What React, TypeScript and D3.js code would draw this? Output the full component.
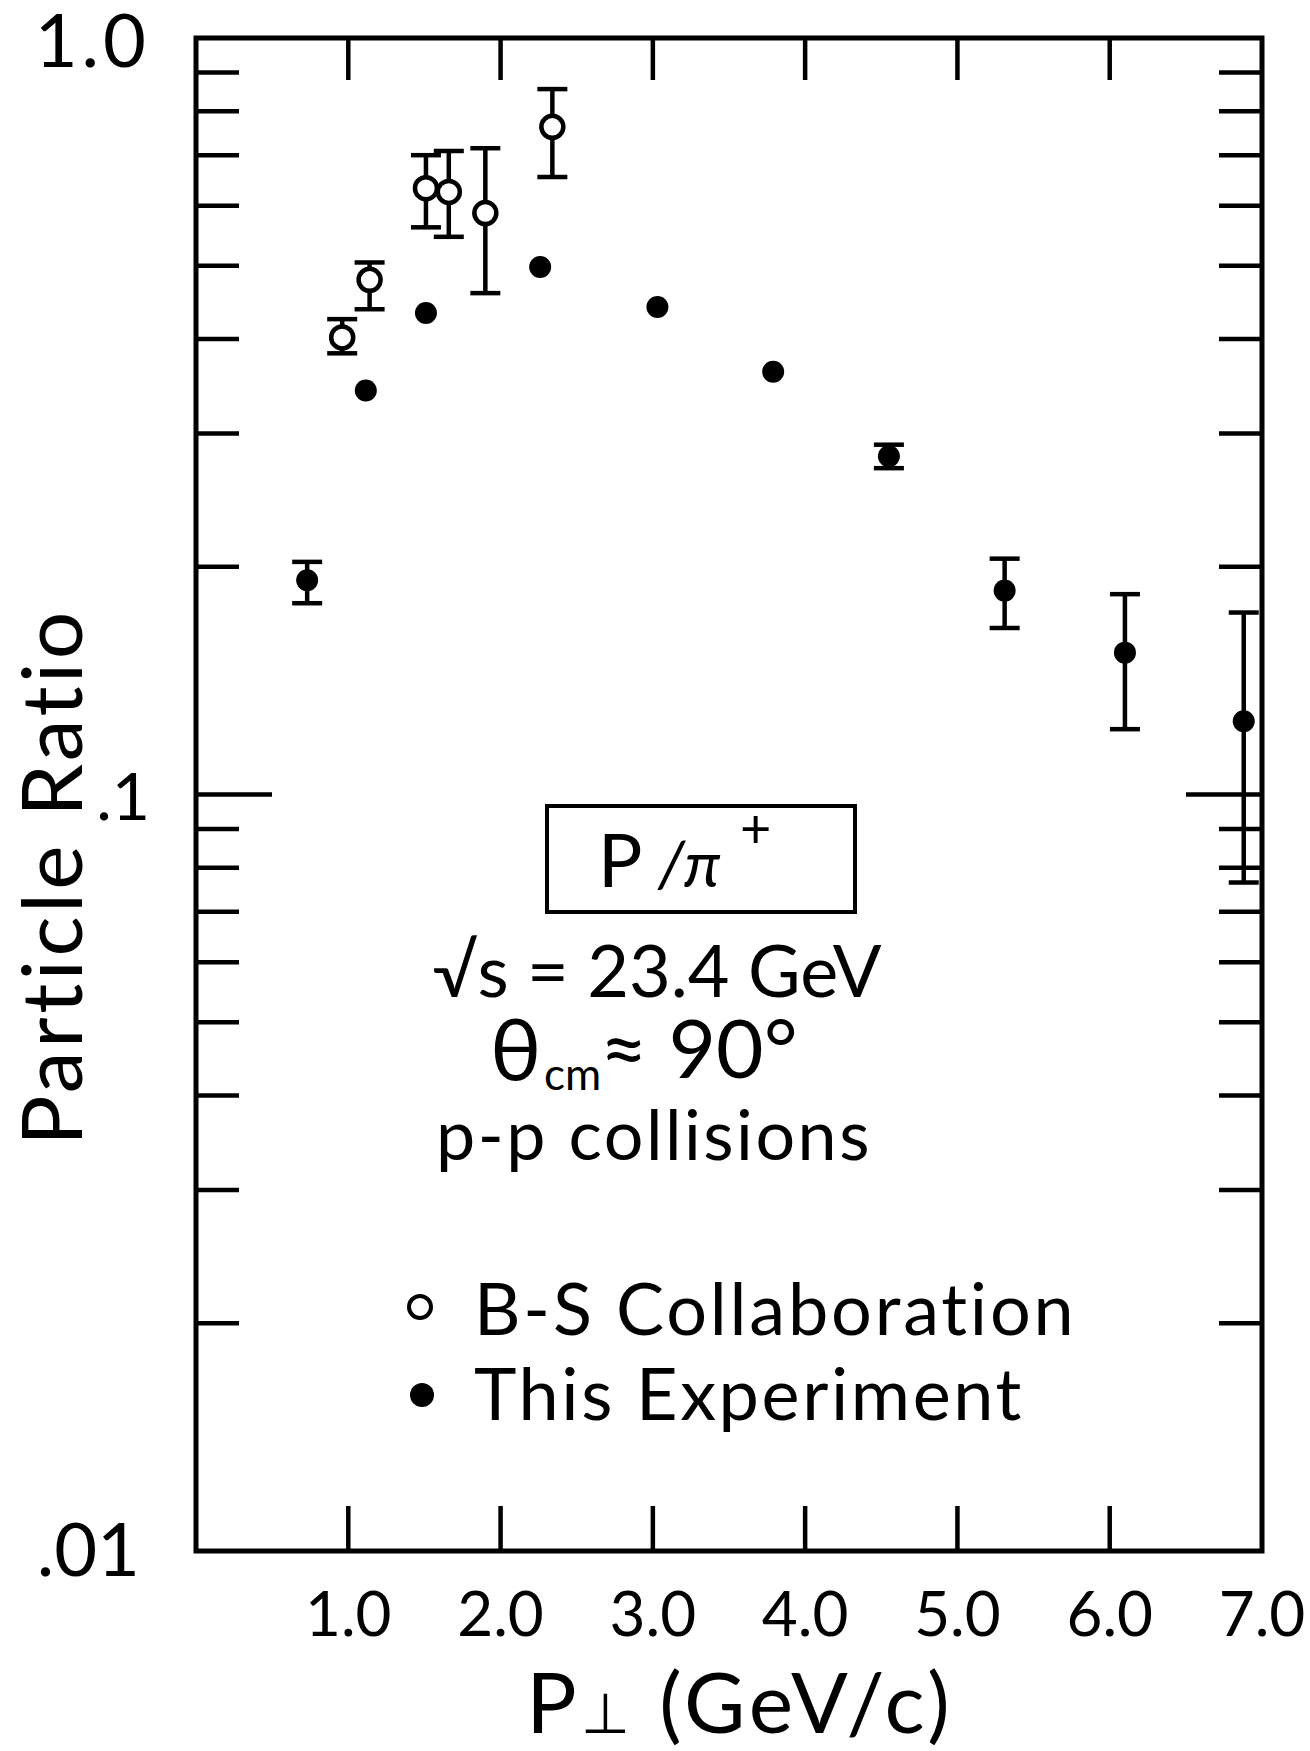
import React from "react";
import * as d3 from "d3";

// This Experiment (filled)
const thisPt = [0.73, 1.115, 1.51, 2.26, 3.03, 3.79, 4.55, 5.31, 6.1, 6.88];
const thisRatio = [0.192, 0.342, 0.433, 0.498, 0.441, 0.362, 0.28, 0.186, 0.154, 0.125];
const thisErrHi = [0.203, null, null, null, null, null, 0.29, 0.205, 0.184, 0.174];
const thisErrLo = [0.179, null, null, null, null, null, 0.27, 0.166, 0.122, 0.0765];

// B-S Collaboration (open)
const bsPt = [0.96, 1.14, 1.51, 1.66, 1.9, 2.34];
const bsRatio = [0.402, 0.479, 0.633, 0.626, 0.587, 0.763];
const bsErrHi = [0.425, 0.505, 0.7, 0.709, 0.715, 0.856];
const bsErrLo = [0.383, 0.438, 0.562, 0.546, 0.46, 0.655];

const xTickValues = [1, 2, 3, 4, 5, 6];
const xTickLabels = ["1.0", "2.0", "3.0", "4.0", "5.0", "6.0", "7.0"];
const yMinorTicks = [0.02, 0.03, 0.04, 0.05, 0.06, 0.07, 0.08, 0.09, 0.2, 0.3, 0.4, 0.5, 0.6, 0.7, 0.8, 0.9];
const yMajorTicks = [0.1];
const yTickLabels = [
  { v: 1, t: "1.0" },
  { v: 0.1, t: ".1" },
  { v: 0.01, t: ".01" },
];

const FONT = "Lato, 'Open Sans', sans-serif";

export default function App() {
  const W = 1310;
  const H = 1751;
  const x = d3.scaleLinear().domain([0, 7]).range([196, 1262]);
  const y = d3.scaleLog().domain([0.01, 1]).range([1551, 38]);
  const [x0, x1] = x.range();
  const [yb, yt] = y.range();
  const sw = 4.5;

  const errBar = (px: number, lo: number, hi: number, key: string, cap = 15) => (
    <g key={key} stroke="#000" strokeWidth={sw}>
      <line x1={px} x2={px} y1={y(hi)} y2={y(lo)} />
      <line x1={px - cap} x2={px + cap} y1={y(hi)} y2={y(hi)} />
      <line x1={px - cap} x2={px + cap} y1={y(lo)} y2={y(lo)} />
    </g>
  );

  const yLabelX: Record<string, number> = { "1.0": 150, ".1": 150, ".01": 140 };
  const yLabelSize: Record<string, number> = { "1.0": 74, ".1": 66, ".01": 74 };

  return (
    <svg width={W} height={H} style={{ display: "block", position: "absolute", left: 0, top: 0 }}>
      <rect width={W} height={H} fill="#fff" />
      {/* frame */}
      <rect x={x0} y={yt} width={x1 - x0} height={yb - yt} fill="none" stroke="#000" strokeWidth={5} />
      {/* x ticks */}
      {xTickValues.map((v) => (
        <g key={"xt" + v} stroke="#000" strokeWidth={sw}>
          <line x1={x(v)} x2={x(v)} y1={yb} y2={yb - 45} />
          <line x1={x(v)} x2={x(v)} y1={yt} y2={yt + 42} />
        </g>
      ))}
      {/* y ticks */}
      {yMinorTicks.map((v) => (
        <g key={"ym" + v} stroke="#000" strokeWidth={sw}>
          <line x1={x0} x2={x0 + 43} y1={y(v)} y2={y(v)} />
          <line x1={x1} x2={x1 - 43} y1={y(v)} y2={y(v)} />
        </g>
      ))}
      {yMajorTicks.map((v) => (
        <g key={"yM" + v} stroke="#000" strokeWidth={sw}>
          <line x1={x0} x2={x0 + 76} y1={y(v)} y2={y(v)} />
          <line x1={x1} x2={x1 - 76} y1={y(v)} y2={y(v)} />
        </g>
      ))}
      {/* x tick labels */}
      {xTickLabels.map((t, i) => (
        <text key={"xl" + t} x={x(i + 1)} y={1636} fontFamily={FONT} fontSize={62} textAnchor="middle">
          {t}
        </text>
      ))}
      {/* y tick labels */}
      {yTickLabels.map((d) => (
        <text
          key={"yl" + d.t}
          x={yLabelX[d.t]}
          y={y(d.v) + (d.v === 1 ? 29 : 25)}
          fontFamily={FONT}
          fontSize={yLabelSize[d.t]}
          textAnchor="end"
          letterSpacing={d.v === 1 ? 4 : 0}
        >
          {d.t}
        </text>
      ))}
      {/* axis titles */}
      <text
        transform={`translate(${82},${877}) rotate(-90)`}
        fontFamily={FONT}
        fontSize={84}
        letterSpacing={3.5}
        textAnchor="middle"
      >
        Particle Ratio
      </text>
      <text x={740} y={1733} fontFamily={FONT} fontSize={84} textAnchor="middle" letterSpacing={4}>
        P<tspan fontSize={56}>⊥</tspan> (GeV/c)
      </text>

      {/* annotation box */}
      <rect x={547} y={806} width={308} height={106} fill="none" stroke="#000" strokeWidth={4} />
      <text x={598} y={887} fontFamily={FONT} fontSize={74}>
        P
      </text>
      <text x={658} y={887} fontFamily={FONT} fontSize={64} fontStyle="italic">
        /π
      </text>
      <text x={740} y={848} fontFamily={FONT} fontSize={54}>
        +
      </text>
      <text x={657} y={997} fontFamily={FONT} fontSize={72} textAnchor="middle">
        √s = 23.4 GeV
      </text>
      <text x={490} y={1080} fontFamily={FONT} fontSize={86}>
        θ
      </text>
      <text x={544} y={1090} fontFamily={FONT} fontSize={44}>
        cm
      </text>
      <text x={600} y={1078} fontFamily={FONT} fontSize={82}>
        ≈ 90°
      </text>
      <text x={654} y={1160} fontFamily={FONT} fontSize={70} textAnchor="middle" letterSpacing={2.5}>
        p-p collisions
      </text>

      {/* legend */}
      <circle cx={420} cy={1307} r={11} fill="#fff" stroke="#000" strokeWidth={4} />
      <text x={474} y={1335} fontFamily={FONT} fontSize={72} letterSpacing={2.8}>
        B-S  Collaboration
      </text>
      <circle cx={422} cy={1395} r={12} fill="#000" />
      <text x={474} y={1420} fontFamily={FONT} fontSize={72} letterSpacing={2.6}>
        This  Experiment
      </text>

      {/* B-S data */}
      {bsPt.map((p, i) => errBar(x(p), bsErrLo[i], bsErrHi[i], "bse" + i))}
      {bsPt.map((p, i) => (
        <circle key={"bs" + i} cx={x(p)} cy={y(bsRatio[i])} r={11} fill="#fff" stroke="#000" strokeWidth={4.5} />
      ))}

      {/* This experiment data */}
      {thisPt.map((p, i) =>
        thisErrHi[i] != null && thisErrLo[i] != null
          ? errBar(x(p), thisErrLo[i] as number, thisErrHi[i] as number, "te" + i)
          : null
      )}
      {thisPt.map((p, i) => (
        <circle key={"t" + i} cx={x(p)} cy={y(thisRatio[i])} r={11} fill="#000" />
      ))}
    </svg>
  );
}
